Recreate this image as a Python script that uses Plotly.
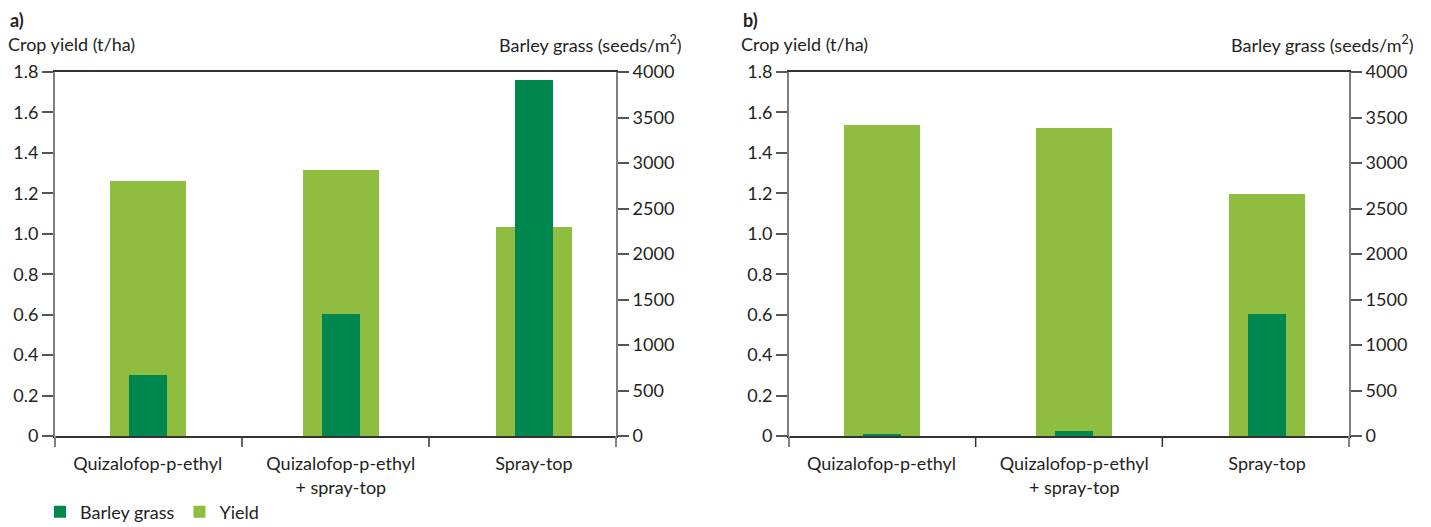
import plotly.graph_objects as go

categories = ["Quizalofop-p-ethyl", "Quizalofop-p-ethyl<br>+ spray-top", "Spray-top"]
yield_a = [1.26, 1.315, 1.035]
barley_a = [670, 1340, 3915]
yield_b = [1.538, 1.523, 1.198]
barley_b = [22, 55, 1340]
left_ticks = [0, 0.2, 0.4, 0.6, 0.8, 1.0, 1.2, 1.4, 1.6, 1.8]
left_labels = ["0", "0.2", "0.4", "0.6", "0.8", "1.0", "1.2", "1.4", "1.6", "1.8"]
right_ticks = [0, 500, 1000, 1500, 2000, 2500, 3000, 3500, 4000]

DARK = "#00874f"
LIGHT = "#8fbd40"
TXT = "#231f20"
FONT = "Lato"
FS = 18

W, H = 1431, 527
OFF = 8  # page body margin offset


def px(x):
    return (x - OFF) / W


def py(y):
    return (H - (y - OFF)) / H


fig = go.Figure()
x_pos = [0, 1, 2]

fig.add_trace(go.Bar(x=x_pos, y=yield_a, width=0.394, marker=dict(color=LIGHT, line=dict(width=0)),
                     name="Yield", xaxis="x", yaxis="y"))
fig.add_trace(go.Bar(x=x_pos, y=barley_a, width=0.197, marker=dict(color=DARK, line=dict(width=0)),
                     name="Barley grass", xaxis="x", yaxis="y2"))
fig.add_trace(go.Bar(x=x_pos, y=yield_b, width=0.394, marker=dict(color=LIGHT, line=dict(width=0)),
                     name="Yield", xaxis="x2", yaxis="y3", showlegend=False))
fig.add_trace(go.Bar(x=x_pos, y=barley_b, width=0.197, marker=dict(color=DARK, line=dict(width=0)),
                     name="Barley grass", xaxis="x2", yaxis="y4", showlegend=False))

ybot, ytop = 436, 72
ydom = [py(ybot), py(ytop)]


def xax(dom, anchor):
    return dict(domain=dom, anchor=anchor, range=[-0.48, 2.425], automargin=False,
                tickmode="array", tickvals=x_pos, ticktext=categories,
                showline=True, linecolor="#333333", linewidth=1.5, mirror=True,
                ticks="outside", ticklen=11, tickcolor="rgba(0,0,0,0)", showgrid=False, zeroline=False,
                tickfont=dict(family=FONT, size=FS, color=TXT), fixedrange=True)


def yleft(anchor):
    return dict(domain=ydom, anchor=anchor, range=[0, 1.8], tickvals=left_ticks, ticktext=left_labels,
                automargin=False, showline=True, linecolor="#808080", linewidth=2, ticks="outside",
                ticklen=11, tickcolor="#555555", tickwidth=1.5, showgrid=False, zeroline=False,
                tickfont=dict(family=FONT, size=FS, color=TXT))


def yright(anchor, over):
    return dict(domain=ydom, anchor=anchor, overlaying=over, side="right", range=[0, 4000],
                tickvals=right_ticks, automargin=False, showline=True, linecolor="#808080", linewidth=2,
                ticks="outside", ticklen=11, tickcolor="#555555", tickwidth=1.5,
                showgrid=False, zeroline=False, tickfont=dict(family=FONT, size=FS, color=TXT))


xa_dom = [px(55), px(616)]
xb_dom = [px(789), px(1349)]

fig.update_layout(
    width=W, height=H,
    margin=dict(l=0, r=0, t=0, b=0, autoexpand=False),
    paper_bgcolor="white", plot_bgcolor="white",
    barmode="overlay", bargap=0,
    font=dict(family=FONT, size=FS, color=TXT),
    xaxis=xax(xa_dom, "y"),
    yaxis=yleft("x"),
    yaxis2=yright("x", "y"),
    xaxis2=xax(xb_dom, "y3"),
    yaxis3=yleft("x2"),
    yaxis4=yright("x2", "y3"),
    legend=dict(orientation="h", x=px(40), xanchor="left", y=py(512), yanchor="middle",
                traceorder="reversed", font=dict(family=FONT, size=FS, color=TXT),
                bgcolor="rgba(0,0,0,0)"),
    showlegend=True,
)

# separator ticks between categories on the x axes
for dom in (xa_dom, xb_dom):
    x0, x1 = dom[0], dom[1]
    step = (x1 - x0) / 3
    for k in range(0, 4):
        xx = x0 + step * k
        inner = 0 < k < 3
        fig.add_shape(type="line", xref="paper", yref="paper",
                      x0=xx, x1=xx, y0=py(ybot), y1=py(ybot + 11),
                      line=dict(color="#333333" if inner else "#808080", width=1.5 if inner else 2))

annots = [
    dict(text="<b>a)</b>", x=px(9), y=py(8), xanchor="left", yanchor="top"),
    dict(text="<b>b)</b>", x=px(742), y=py(8), xanchor="left", yanchor="top"),
    dict(text="Crop yield (t/ha)", x=px(7), y=py(44), xanchor="left", yanchor="middle"),
    dict(text="Crop yield (t/ha)", x=px(740), y=py(44), xanchor="left", yanchor="middle"),
    dict(text="Barley grass (seeds/m<sup>2</sup>)", x=px(683), y=py(44), xanchor="right", yanchor="middle"),
    dict(text="Barley grass (seeds/m<sup>2</sup>)", x=px(1415), y=py(44), xanchor="right", yanchor="middle"),
]
for a in annots:
    fig.add_annotation(xref="paper", yref="paper", showarrow=False, borderpad=0,
                       font=dict(family=FONT, size=FS, color=TXT), **a)

fig.write_html("out.html")
